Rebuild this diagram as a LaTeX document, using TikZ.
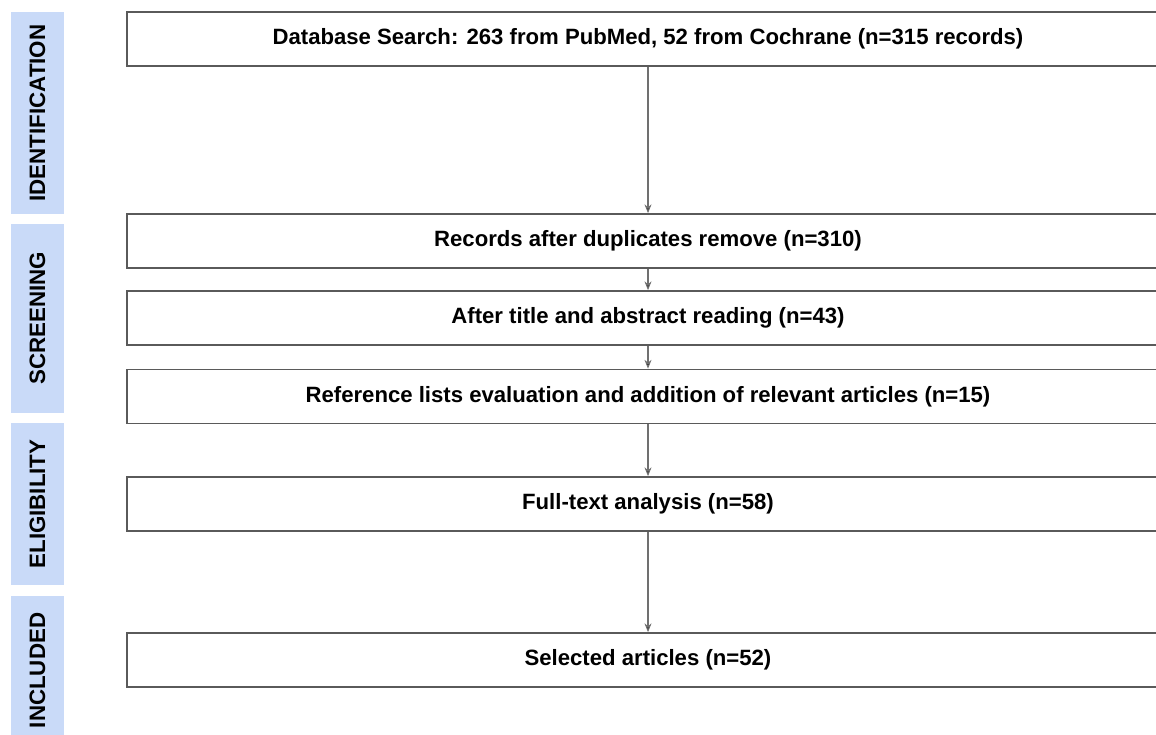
\documentclass[tikz,border=0pt]{standalone}
\usepackage{fontspec}
\setmainfont{Liberation Sans}
\usepackage{tikz}
\usetikzlibrary{arrows.meta, positioning}

\definecolor{phasefill}{HTML}{C9DAF8}
\definecolor{boxline}{HTML}{5A5A5A}
\definecolor{arrowline}{HTML}{707070}

\begin{document}
\begin{tikzpicture}[
	node distance = 1cm,
	on grid,
	> = {Stealth[length=5pt,width=4pt]},
	stage/.style = {draw=boxline, line width=1pt, fill=white, minimum width=20.84cm,
		minimum height=1.08cm, inner sep=0pt, font=\fontsize{12.6}{15}\selectfont\bfseries},
	phase/.style = {fill=phasefill, rotate=90, minimum height=1.06cm, inner sep=0pt,
		font=\fontsize{12.7}{15}\selectfont\bfseries}
	]
	\clip (0,0) rectangle (23.12,-14.68);
	\fill[white] (0,0) rectangle (23.12,-14.68);
	% phase bars on the left
	\node[phase, minimum width=4.04cm] (ident) at (0.75,-2.26) {IDENTIFICATION};
	\node[phase, minimum width=3.78cm] (screen) at (0.75,-6.37) {SCREENING};
	\node[phase, minimum width=3.24cm] (elig) at (0.75,-10.08) {ELIGIBILITY};
	\node[phase, minimum width=2.98cm] (incl) at (0.75,-13.41) {INCLUDED};
	% flow boxes
	\node[stage] (search) at (12.96,-0.78) {Database Search: 263 from PubMed, 52 from Cochrane (n=315 records)};
	\node[stage] (dupl) [below=4.04cm of search] {Records after duplicates remove (n=310)};
	\node[stage] (title) [below=1.54cm of dupl] {After title and abstract reading (n=43)};
	\node[stage] (reflist) [below=1.57cm of title] {Reference lists evaluation and addition of relevant articles (n=15)};
	\node[stage] (fulltext) [below=2.15cm of reflist] {Full-text analysis (n=58)};
	\node[stage] (selected) [below=3.12cm of fulltext] {Selected articles (n=52)};
	\path[->, draw=arrowline, line width=0.6pt]
	(search) edge (dupl)
	(dupl) edge (title)
	(title) edge (reflist)
	(reflist) edge (fulltext)
	(fulltext) edge (selected);
\end{tikzpicture}
\end{document}
